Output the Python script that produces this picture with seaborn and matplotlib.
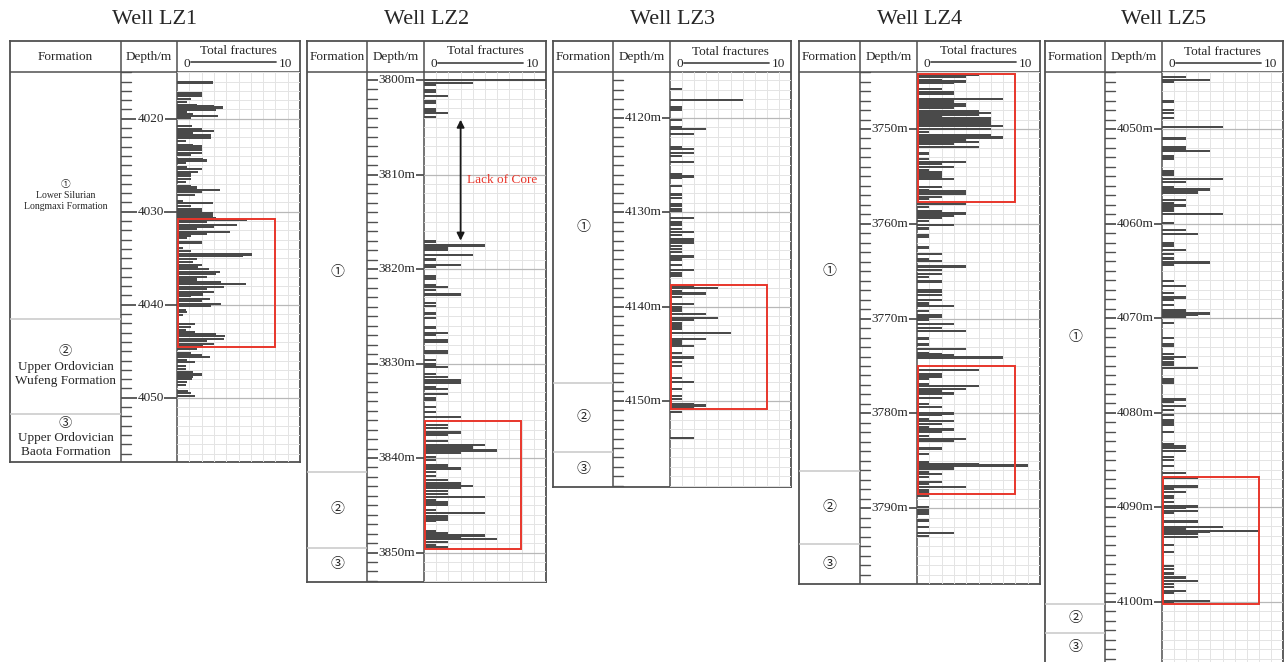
import numpy as np
import pandas as pd
import matplotlib
matplotlib.use('Agg')
import matplotlib.pyplot as plt
from matplotlib.patches import Rectangle
import seaborn as sns

# ---------------- data ----------------
WELLS = ['LZ1', 'LZ2', 'LZ3', 'LZ4', 'LZ5']

LZ1_DEPTH = [
  4016.1, 4017.2, 4017.4, 4017.6, 4017.9, 4018.2, 4018.5, 4018.6, 4018.8, 4019.0,
  4019.3, 4019.5, 4019.7, 4019.9, 4020.8, 4021.1, 4021.3, 4021.6, 4021.8, 4022.1,
  4022.4, 4022.8, 4023.0, 4023.3, 4023.7, 4023.9, 4024.3, 4024.5, 4024.8, 4025.2,
  4025.4, 4025.7, 4025.9, 4026.2, 4026.5, 4026.8, 4027.2, 4027.4, 4027.7, 4027.9,
  4028.2, 4028.9, 4029.1, 4029.4, 4029.7, 4029.9, 4030.1, 4030.4, 4030.7, 4030.9,
  4031.1, 4031.4, 4031.6, 4031.9, 4032.2, 4032.4, 4032.6, 4032.8, 4033.3, 4033.9,
  4034.2, 4034.6, 4034.8, 4035.1, 4035.4, 4035.7, 4035.9, 4036.2, 4036.5, 4036.7,
  4037.0, 4037.3, 4037.6, 4037.8, 4038.1, 4038.3, 4038.6, 4038.9, 4039.1, 4039.4,
  4039.6, 4039.9, 4040.1, 4040.6, 4040.8, 4041.1, 4042.1, 4042.4, 4042.7, 4043.0,
  4043.2, 4043.4, 4043.7, 4043.9, 4044.2, 4044.4, 4044.8, 4045.2, 4045.4, 4045.6,
  4046.0, 4046.2, 4046.6, 4046.9, 4047.2, 4047.5, 4047.8, 4048.0, 4048.3, 4048.6,
  4049.3, 4049.5, 4049.8,
]
LZ1_COUNT = [
  2.9, 2.0, 2.0, 2.0, 1.1, 0.8, 1.6, 3.0, 3.7, 3.2,
  0.8, 1.3, 3.3, 1.1, 1.2, 2.0, 3.0, 1.3, 2.8, 2.8,
  0.7, 1.3, 2.0, 2.0, 2.0, 1.1, 2.1, 2.4, 0.7, 0.8,
  2.0, 1.7, 1.1, 1.1, 1.1, 0.7, 1.1, 1.6, 3.5, 2.0,
  1.5, 0.5, 2.9, 1.1, 2.0, 2.0, 2.9, 2.9, 3.2, 5.7,
  2.4, 4.9, 3.0, 1.6, 4.3, 2.4, 1.1, 0.8, 2.0, 0.5,
  1.1, 6.1, 5.4, 1.6, 1.3, 2.0, 1.7, 2.6, 3.5, 3.2,
  2.4, 1.6, 3.6, 5.6, 3.8, 2.4, 3.0, 2.1, 1.1, 2.7,
  2.0, 3.6, 2.8, 0.7, 0.8, 0.5, 1.5, 1.1, 0.7, 1.5,
  3.2, 3.9, 3.8, 2.4, 3.0, 2.1, 1.6, 1.1, 2.0, 2.7,
  0.8, 1.5, 0.7, 0.7, 1.3, 2.0, 1.3, 1.2, 0.8, 0.7,
  0.9, 1.1, 1.5,
]

LZ2_DEPTH = [
  3800.0, 3800.3, 3800.5, 3801.1, 3801.3, 3801.7, 3802.2, 3802.4, 3803.1, 3803.3,
  3803.5, 3803.9, 3817.1, 3817.5, 3817.8, 3818.0, 3818.5, 3819.0, 3819.6, 3819.8,
  3820.8, 3821.0, 3821.7, 3821.9, 3822.2, 3822.7, 3823.6, 3823.9, 3824.7, 3825.2,
  3826.2, 3826.8, 3827.0, 3827.5, 3827.7, 3828.7, 3828.9, 3829.6, 3830.1, 3830.4,
  3831.1, 3831.4, 3831.8, 3832.1, 3832.5, 3832.7, 3833.2, 3833.7, 3833.9, 3834.6,
  3835.1, 3835.7, 3836.5, 3836.8, 3837.3, 3837.6, 3838.2, 3838.6, 3838.9, 3839.2,
  3839.5, 3839.9, 3840.2, 3840.8, 3841.1, 3841.5, 3841.9, 3842.3, 3842.7, 3843.0,
  3843.2, 3843.5, 3843.8, 3844.1, 3844.5, 3844.7, 3845.0, 3845.5, 3845.8, 3846.2,
  3846.5, 3846.7, 3847.7, 3847.9, 3848.2, 3848.4, 3848.6, 3848.9, 3849.2, 3849.4,
]
LZ2_COUNT = [
  10, 4, 1, 1, 1, 2, 1, 1, 1, 1,
  2, 1, 1, 5, 2, 2, 4, 1, 3, 1,
  1, 1, 1, 2, 1, 3, 1, 1, 1, 1,
  1, 2, 1, 2, 2, 2, 2, 1, 1, 2,
  1, 2, 3, 3, 1, 2, 2, 1, 1, 1,
  1, 3, 2, 2, 3, 2, 2, 5, 4, 6,
  3, 1, 1, 2, 3, 1, 1, 2, 3, 4,
  3, 2, 2, 5, 1, 2, 2, 1, 5, 2,
  2, 1, 1, 2, 5, 3, 6, 2, 1, 2,
]

LZ3_DEPTH = [
  4116.9, 4118.1, 4118.9, 4119.1, 4120.2, 4121.0, 4121.2, 4121.7, 4123.1, 4123.3,
  4123.7, 4124.0, 4124.7, 4126.0, 4126.2, 4126.4, 4127.2, 4128.1, 4128.5, 4129.1,
  4129.3, 4129.7, 4129.9, 4130.6, 4131.0, 4131.3, 4131.8, 4132.1, 4132.4, 4132.8,
  4133.0, 4133.2, 4133.6, 4133.9, 4134.2, 4134.7, 4135.0, 4135.6, 4136.1, 4136.4,
  4136.7, 4137.8, 4138.0, 4138.4, 4138.6, 4139.0, 4139.7, 4140.1, 4140.4, 4140.8,
  4141.2, 4141.4, 4141.8, 4142.1, 4142.4, 4142.8, 4143.4, 4143.6, 4143.9, 4144.2,
  4144.9, 4145.4, 4145.9, 4146.3, 4147.6, 4148.0, 4148.7, 4149.5, 4149.8, 4150.3,
  4150.5, 4150.7, 4151.2, 4153.9,
]
LZ3_COUNT = [
  1, 6, 1, 1, 1, 1, 3, 2, 1, 2,
  2, 1, 2, 1, 2, 1, 1, 1, 1, 1,
  1, 1, 1, 2, 1, 1, 1, 2, 1, 2,
  2, 2, 1, 1, 1, 2, 1, 1, 2, 1,
  1, 2, 4, 1, 3, 1, 2, 1, 1, 3,
  4, 2, 1, 1, 1, 5, 3, 1, 1, 2,
  1, 2, 1, 1, 1, 2, 1, 1, 1, 2,
  3, 2, 1, 2,
]

LZ4_DEPTH = [
  3744.3, 3744.5, 3744.8, 3745.0, 3745.1, 3745.8, 3746.1, 3746.3, 3746.8, 3747.0,
  3747.2, 3747.4, 3747.6, 3747.8, 3748.1, 3748.3, 3748.5, 3748.7, 3748.9, 3749.1,
  3749.3, 3749.5, 3749.7, 3750.0, 3750.3, 3750.6, 3750.9, 3751.2, 3751.4, 3751.6,
  3751.9, 3752.5, 3752.6, 3753.2, 3753.5, 3753.7, 3754.0, 3754.3, 3754.6, 3754.9,
  3755.1, 3755.3, 3756.1, 3756.4, 3756.6, 3756.8, 3757.2, 3757.4, 3757.9, 3758.2,
  3758.7, 3758.9, 3759.2, 3759.4, 3759.7, 3760.1, 3760.5, 3761.2, 3761.4, 3762.5,
  3763.2, 3763.7, 3763.9, 3764.5, 3764.9, 3765.3, 3765.6, 3766.1, 3767.0, 3767.2,
  3767.5, 3768.0, 3768.4, 3768.7, 3769.2, 3769.6, 3769.8, 3770.1, 3770.6, 3771.0,
  3771.3, 3772.1, 3772.7, 3772.8, 3773.2, 3773.6, 3773.8, 3773.9, 3774.1, 3775.4,
  3775.9, 3776.1, 3776.4, 3776.9, 3777.1, 3777.4, 3777.6, 3777.9, 3778.4, 3779.0,
  3779.3, 3780.0, 3780.2, 3780.6, 3780.8, 3781.1, 3781.4, 3781.7, 3781.9, 3782.4,
  3782.7, 3782.9, 3783.7, 3784.3, 3785.1, 3785.3, 3785.5, 3785.8, 3786.2, 3786.4,
  3786.7, 3787.2, 3787.4, 3787.8, 3788.1, 3788.3, 3788.7, 3789.9, 3790.2, 3790.4,
  3790.6, 3791.3, 3792.0, 3792.6, 3792.9,
]
LZ4_COUNT = [
  5, 4, 2, 4, 3, 2, 3, 3, 7, 3,
  3, 4, 4, 3, 5, 6, 5, 2, 6, 6,
  6, 6, 7, 6, 1, 6, 7, 4, 5, 3,
  5, 1, 1, 1, 4, 2, 3, 1, 2, 2,
  2, 3, 2, 1, 4, 4, 2, 1, 4, 1,
  2, 4, 3, 2, 1, 3, 1, 1, 1, 1,
  2, 1, 2, 4, 2, 2, 1, 2, 2, 2,
  2, 2, 1, 3, 1, 2, 2, 1, 3, 2,
  4, 1, 1, 1, 4, 1, 2, 3, 7, 5,
  2, 2, 1, 1, 5, 4, 2, 3, 2, 1,
  2, 3, 2, 1, 3, 2, 1, 3, 2, 1,
  4, 3, 2, 1, 1, 5, 9, 3, 1, 2,
  1, 2, 1, 4, 1, 1, 1, 1, 1, 1,
  1, 1, 1, 3, 1,
]

LZ5_DEPTH = [
  4044.5, 4044.8, 4045.0, 4047.1, 4048.0, 4048.3, 4048.8, 4049.8, 4051.0, 4051.9,
  4052.1, 4052.3, 4052.9, 4053.2, 4054.5, 4054.8, 4055.3, 4055.6, 4056.1, 4056.4,
  4056.7, 4057.5, 4057.8, 4058.1, 4058.4, 4058.7, 4059.0, 4059.9, 4060.7, 4061.1,
  4062.1, 4062.4, 4062.8, 4063.2, 4063.7, 4064.1, 4064.4, 4066.1, 4066.6, 4067.3,
  4067.8, 4068.1, 4068.6, 4069.2, 4069.5, 4069.7, 4069.9, 4070.5, 4072.1, 4072.7,
  4072.9, 4073.8, 4074.1, 4074.3, 4074.6, 4074.9, 4075.3, 4076.4, 4076.6, 4076.8,
  4078.6, 4078.8, 4079.3, 4079.7, 4080.2, 4080.8, 4081.1, 4081.3, 4082.0, 4083.3,
  4083.5, 4083.7, 4084.0, 4084.7, 4085.0, 4085.6, 4086.4, 4086.9, 4087.8, 4088.0,
  4088.4, 4088.8, 4089.0, 4089.4, 4089.9, 4090.1, 4090.4, 4090.6, 4091.5, 4092.1,
  4092.3, 4092.5, 4092.6, 4092.8, 4093.1, 4094.0, 4094.7, 4096.2, 4096.5, 4097.0,
  4097.4, 4097.8, 4098.1, 4098.4, 4098.8, 4099.0, 4099.9, 4100.0,
]
LZ5_COUNT = [
  2, 4, 1, 1, 1, 1, 1, 5, 2, 2,
  2, 4, 1, 1, 1, 1, 5, 2, 1, 4,
  3, 2, 1, 2, 1, 1, 5, 1, 2, 3,
  1, 1, 2, 1, 1, 4, 1, 1, 2, 1,
  2, 1, 1, 2, 4, 3, 2, 1, 1, 1,
  1, 1, 2, 1, 1, 1, 3, 1, 1, 1,
  2, 1, 2, 1, 1, 1, 1, 1, 1, 1,
  2, 2, 2, 1, 1, 1, 2, 3, 3, 1,
  2, 1, 1, 1, 3, 2, 3, 1, 3, 5,
  2, 8, 4, 3, 3, 1, 1, 1, 1, 1,
  2, 3, 1, 1, 2, 1, 4, 1,
]

# formation boundaries (depth of top of ② and ③)
LZ1_TOPS = [4041.5, 4051.8]
LZ2_TOPS = [3841.5, 3849.5]
LZ3_TOPS = [4148.1, 4155.4]
LZ4_TOPS = [3786.1, 3793.8]
LZ5_TOPS = [4100.2, 4103.3]

LZ1_NAMES = ['①\nLower Silurian\nLongmaxi Formation',
             '②\nUpper Ordovician\nWufeng Formation',
             '③\nUpper Ordovician\nBaota Formation']
SHORT_NAMES = ['①', '②', '③']

# highlighted intervals (red boxes)
LZ1_ZONES = [(4030.8, 4044.55)]
LZ2_ZONES = [(3836.1, 3849.6)]
LZ3_ZONES = [(4137.7, 4150.9)]
LZ4_ZONES = [(3744.2, 3757.7), (3775.0, 3788.5)]
LZ5_ZONES = [(4086.8, 4100.2)]

LZ2_GAP = (3804.2, 3817.0)  # lack of core interval

# ---------------- layout (pixels) ----------------
FIG_W, FIG_H = 1285, 662
TOP_Y, HEAD_Y = 41, 72
LAYOUT = {
  # cols: box left, depth col, fracture col, box right; scale: ref depth, its y, px per m
  'LZ1': dict(cols=(10, 121, 177, 300), ybot=462, scale=(4020, 118.7, 9.3), unit=''),
  'LZ2': dict(cols=(307, 367, 424, 546), ybot=582, scale=(3800, 80, 9.45), unit='m'),
  'LZ3': dict(cols=(553, 613, 670, 791), ybot=487, scale=(4120, 118, 9.43), unit='m'),
  'LZ4': dict(cols=(799, 860, 917, 1040), ybot=584, scale=(3750, 129, 9.48), unit='m'),
  'LZ5': dict(cols=(1045, 1105, 1162, 1283), ybot=690, scale=(4050, 129, 9.46), unit='m'),
}

LINE = '#505050'
GRID = '#e4e4e4'
GRID10 = '#b8b8b8'
BAR = '#4a4a4a'
RED = '#e8362b'
BAR_H = 0.24

sns.set_theme(style='white')
plt.rcParams['font.family'] = ['Liberation Serif', 'Noto Sans CJK SC', 'DejaVu Sans']


def px_axes(fig, x0, y0, x1, y1):
  return fig.add_axes([x0 / FIG_W, 1 - y1 / FIG_H, (x1 - x0) / FIG_W, (y1 - y0) / FIG_H])


def draw_well(fig, name, depth, count, tops, names, name_sizes, zones, lay):
  x0, c1, c2, x1 = lay['cols']
  ybot = lay['ybot']
  d_ref, y_ref, ppm = lay['scale']
  d_top = d_ref + (HEAD_Y - y_ref) / ppm
  d_bot = d_ref + (ybot - y_ref) / ppm
  d_vis = min(d_bot, d_ref + (FIG_H - y_ref) / ppm)

  fig.text((x0 + x1) / 2 / FIG_W, 1 - 20 / FIG_H, f'Well {name}',
           ha='center', va='center', fontsize=16)

  # frame + header
  box = px_axes(fig, x0, TOP_Y, x1, ybot)
  box.set_xlim(x0, x1)
  box.set_ylim(ybot, TOP_Y)
  box.set_xticks([])
  box.set_yticks([])
  for s in box.spines.values():
    s.set_color(LINE)
    s.set_linewidth(1.3)
  box.plot([x0, x1], [HEAD_Y, HEAD_Y], color=LINE, lw=1.1)
  for c in (c1, c2):
    box.plot([c, c], [TOP_Y, ybot], color=LINE, lw=1.1)
  box.text((x0 + c1) / 2, 57, 'Formation', ha='center', va='center', fontsize=9.5)
  box.text((c1 + c2) / 2, 57, 'Depth/m', ha='center', va='center', fontsize=9.5)
  box.text((c2 + x1) / 2, 51.5, 'Total fractures', ha='center', va='center', fontsize=9.5)
  box.text(c2 + 10, 64, '0', ha='center', va='center', fontsize=9.5)
  box.text(c2 + 108, 64, '10', ha='center', va='center', fontsize=9.5)
  box.plot([c2 + 14, c2 + 99], [62.5, 62.5], color=LINE, lw=1.3)

  # formation column
  form = px_axes(fig, x0, HEAD_Y, c1, ybot)
  form.set_xlim(0, 1)
  form.set_ylim(d_bot, d_top)
  form.set_axis_off()
  for t in tops:
    form.axhline(t, color='#c8c8c8', lw=1.1)
  edges = [d_top] + list(tops) + [d_vis]
  for i, label in enumerate(names):
    form.text(0.5, (edges[i] + edges[i + 1]) / 2, label, ha='center', va='center',
              fontsize=name_sizes[i], linespacing=1.25)

  # depth column
  dep = px_axes(fig, c1, HEAD_Y, c2, ybot)
  w = c2 - c1
  dep.set_xlim(0, w)
  dep.set_ylim(d_bot, d_top)
  dep.set_axis_off()
  for d in range(int(np.ceil(d_top)), int(np.floor(d_bot)) + 1):
    if d % 10:
      dep.plot([0, 10], [d, d], color=LINE, lw=1.0)
    else:
      dep.plot([0, w], [d, d], color=LINE, lw=1.3)
      dep.text(w / 2 + 1.5, d, f'{d}{lay["unit"]}', ha='center', va='center', fontsize=9.5,
               bbox=dict(facecolor='white', edgecolor='none', pad=0.6))

  # fracture column
  fr = px_axes(fig, c2, HEAD_Y, x1, ybot)
  df = pd.DataFrame({'depth': depth, 'count': count})
  step = np.nanmin(np.diff(np.unique(df['depth'])))
  sns.barplot(data=df, x='count', y='depth', orient='y', native_scale=True,
              width=BAR_H / step, color=BAR, saturation=1, linewidth=0,
              errorbar=None, ax=fr)
  fr.set_xlim(0, 10)
  fr.set_ylim(d_bot, d_top)
  for v in range(1, 10):
    fr.axvline(v, color=GRID, lw=0.7, zorder=0)
  for d in range(int(np.ceil(d_top)), int(np.floor(d_bot)) + 1):
    fr.axhline(d, color=GRID10 if d % 10 == 0 else GRID, lw=0.9 if d % 10 == 0 else 0.7,
               zorder=0)
  for top, bot in zones:
    fr.add_patch(Rectangle((0.08, top), 7.9, bot - top, fill=False, ec=RED, lw=1.4, zorder=5))
  fr.set_axis_off()
  return fr


fig = plt.figure(figsize=(FIG_W / 100, FIG_H / 100), dpi=100)

wells = {
  'LZ1': (LZ1_DEPTH, LZ1_COUNT, LZ1_TOPS, LZ1_NAMES, [7, 9.5, 9.5], LZ1_ZONES),
  'LZ2': (LZ2_DEPTH, LZ2_COUNT, LZ2_TOPS, SHORT_NAMES, [10, 10, 10], LZ2_ZONES),
  'LZ3': (LZ3_DEPTH, LZ3_COUNT, LZ3_TOPS, SHORT_NAMES, [10, 10, 10], LZ3_ZONES),
  'LZ4': (LZ4_DEPTH, LZ4_COUNT, LZ4_TOPS, SHORT_NAMES, [10, 10, 10], LZ4_ZONES),
  'LZ5': (LZ5_DEPTH, LZ5_COUNT, LZ5_TOPS, SHORT_NAMES, [10, 10, 10], LZ5_ZONES),
}
axes = {}
for name in WELLS:
  axes[name] = draw_well(fig, name, *wells[name], LAYOUT[name])

# missing core annotation on LZ2
ax2 = axes['LZ2']
ax2.annotate('', xy=(3, LZ2_GAP[0]), xytext=(3, LZ2_GAP[1]),
             arrowprops=dict(arrowstyle='<|-|>', color='#1a1a1a', lw=1.3,
                             mutation_scale=11, shrinkA=0, shrinkB=0), zorder=6)
ax2.text(6.4, (LZ2_GAP[0] + LZ2_GAP[1]) / 2, 'Lack of Core', color=RED,
         ha='center', va='center', fontsize=9.5)

fig.savefig('out.png', dpi=100, facecolor='white')
